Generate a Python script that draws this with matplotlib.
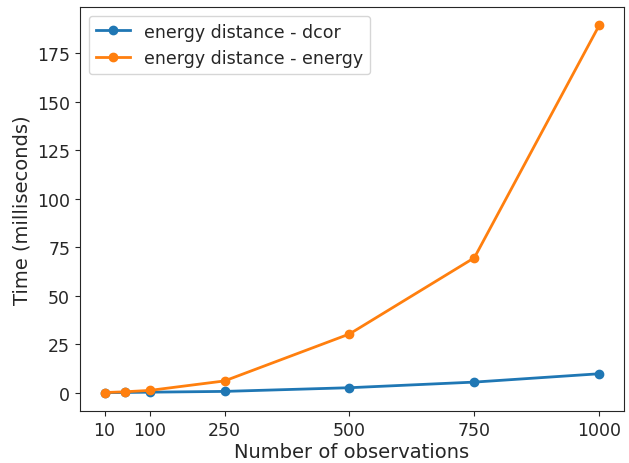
import matplotlib
matplotlib.use("Agg")
import matplotlib.pyplot as plt

n_obs = [10, 50, 100, 250, 500, 750, 1000]
dcor_times = [0.05, 0.15, 0.3, 0.7, 2.6, 5.5, 9.8]
energy_times = [0.1, 0.5, 1.2, 6.1, 30.3, 69.6, 189.5]
xticks = [10, 100, 250, 500, 750, 1000]

dark = '#262626'
plt.rcParams.update({
    'font.size': 12.5,
    'text.color': dark,
    'axes.labelcolor': dark,
    'axes.edgecolor': dark,
    'xtick.color': dark,
    'ytick.color': dark,
})
fig, ax = plt.subplots(figsize=(6.29, 4.64), dpi=100)
ax.plot(n_obs, dcor_times, marker='o', color='#1f77b4', lw=2, label='energy distance - dcor')
ax.plot(n_obs, energy_times, marker='o', color='#ff7f0e', lw=2, label='energy distance - energy')
ax.set_xticks(xticks)
ax.set_xlabel('Number of observations', fontsize=14, labelpad=2)
ax.set_ylabel('Time (milliseconds)', fontsize=14)
ax.legend(loc='upper left', fontsize=12.5)
fig.subplots_adjust(left=0.127, right=0.992, top=0.983, bottom=0.112)
fig.savefig('out.png')
